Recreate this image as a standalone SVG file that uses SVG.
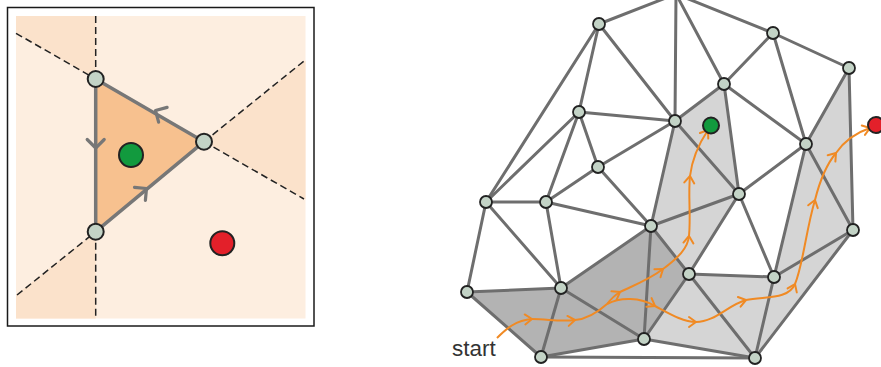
<svg xmlns="http://www.w3.org/2000/svg" width="881" height="367" viewBox="0 0 881 367">
<style>
.frame{fill:#fff;stroke:#1a1a1a;stroke-width:1.5}
.bg{fill:#fdeee0}
.wedge{fill:#fbe2cb}
.dash{stroke:#222;stroke-width:1.5;stroke-dasharray:7 4;fill:none}
.tri{fill:#f7c18f;stroke:#777;stroke-width:3.5;stroke-linejoin:round}
.chev{fill:none;stroke:#777;stroke-width:3.2;stroke-linecap:round;stroke-linejoin:round}
.vx{fill:#c3d3c6;stroke:#222;stroke-width:2}
.nd{fill:#c3d3c6;stroke:#222;stroke-width:1.8}
.edge line{stroke:#6e6e6e;stroke-width:3;stroke-linecap:round}
.dark{fill:#b3b3b3}
.light{fill:#d5d5d5}
.path{fill:none;stroke:#f08a24;stroke-width:2;marker-end:url(#oar)}
.green{fill:#129a3e;stroke:#222;stroke-width:2}
.red{fill:#e3202a;stroke:#222;stroke-width:2}
.lbl{font-family:"Liberation Sans",Arial,sans-serif;font-size:22.5px;fill:#333}
</style>
<defs>
<path id="chv" d="M-8.5,-8.5 L0,0 L-8.5,8.5"/>
<marker id="oar" markerUnits="userSpaceOnUse" viewBox="-10 -10 20 20" markerWidth="20" markerHeight="20" refX="0" refY="0" orient="auto" overflow="visible">
<path d="M-7,-5 L0,0 L-7,5" fill="none" stroke="#f08a24" stroke-width="2" stroke-linecap="round" stroke-linejoin="round"/>
</marker>
</defs>

<g id="left-panel">
<rect class="frame" x="7.5" y="7.5" width="306.5" height="318.5"/>
<rect class="bg" x="16" y="16" width="289.5" height="302.5"/>
<polygon class="wedge" points="16,16 95.7,16 95.7,79 16,33.3"/>
<polygon class="wedge" points="16,295 95.7,231.7 95.7,318.5 16,318.5"/>
<polygon class="wedge" points="204,141.7 305.5,60.5 305.5,199.5"/>
<g id="dashed">
<line class="dash" x1="95.7" y1="16" x2="95.7" y2="79"/>
<line class="dash" x1="95.7" y1="231.7" x2="95.7" y2="318.5"/>
<line class="dash" x1="16" y1="33.3" x2="95.7" y2="79"/>
<line class="dash" x1="17" y1="295" x2="95.7" y2="231.7"/>
<line class="dash" x1="204" y1="141.7" x2="304" y2="61"/>
<line class="dash" x1="204" y1="141.7" x2="304" y2="199"/>
</g>
<polygon id="triangle" class="tri" points="95.7,79 204,141.7 95.7,231.7"/>
<g id="tri-arrows">
<use href="#chv" class="chev" transform="translate(95.7,148) rotate(90)"/>
<use href="#chv" class="chev" transform="translate(146.5,188.5) rotate(-39.7)"/>
<use href="#chv" class="chev" transform="translate(155.5,110.5) rotate(-150)"/>
</g>
<g id="v1"><circle class="vx" cx="95.7" cy="79" r="8"/></g>
<g id="v2"><circle class="vx" cx="204" cy="141.7" r="8"/></g>
<g id="v3"><circle class="vx" cx="95.7" cy="231.7" r="8"/></g>
<g id="left-green"><circle class="green" cx="131" cy="155" r="12"/></g>
<g id="left-red"><circle class="red" cx="222.3" cy="243.3" r="12"/></g>
</g>

<g id="regions">
<polygon class="dark" points="467,292 561,288 651,226 689,274 644,339 541,357"/>
<polygon class="light" points="675,121 724,84 739,194"/>
<polygon class="light" points="675,121 739,194 651,226"/>
<polygon class="light" points="651,226 739,194 689,274"/>
<polygon class="light" points="689,274 644,339 755,358"/>
<polygon class="light" points="689,274 774,277 755,358"/>
<polygon class="light" points="774,277 853,230 755,358"/>
<polygon class="light" points="774,277 806,144 853,230"/>
<polygon class="light" points="806,144 849,68 853,230"/>
</g>

<g id="connectors" class="edge">
<line x1="676" y1="-6" x2="599" y2="24"/>
<line x1="676" y1="-6" x2="675" y2="121"/>
<line x1="676" y1="-6" x2="724" y2="84"/>
<line x1="676" y1="-6" x2="773" y2="33"/>
<line x1="599" y1="24" x2="579" y2="112"/>
<line x1="599" y1="24" x2="675" y2="121"/>
<line x1="599" y1="24" x2="486" y2="202"/>
<line x1="773" y1="33" x2="724" y2="84"/>
<line x1="773" y1="33" x2="849" y2="68"/>
<line x1="773" y1="33" x2="806" y2="144"/>
<line x1="849" y1="68" x2="806" y2="144"/>
<line x1="849" y1="68" x2="853" y2="230"/>
<line x1="724" y1="84" x2="675" y2="121"/>
<line x1="724" y1="84" x2="806" y2="144"/>
<line x1="724" y1="84" x2="739" y2="194"/>
<line x1="579" y1="112" x2="675" y2="121"/>
<line x1="579" y1="112" x2="486" y2="202"/>
<line x1="579" y1="112" x2="546" y2="202"/>
<line x1="579" y1="112" x2="598" y2="167"/>
<line x1="675" y1="121" x2="598" y2="167"/>
<line x1="675" y1="121" x2="651" y2="226"/>
<line x1="675" y1="121" x2="739" y2="194"/>
<line x1="806" y1="144" x2="739" y2="194"/>
<line x1="806" y1="144" x2="853" y2="230"/>
<line x1="806" y1="144" x2="774" y2="277"/>
<line x1="739" y1="194" x2="651" y2="226"/>
<line x1="739" y1="194" x2="689" y2="274"/>
<line x1="739" y1="194" x2="774" y2="277"/>
<line x1="598" y1="167" x2="546" y2="202"/>
<line x1="598" y1="167" x2="651" y2="226"/>
<line x1="486" y1="202" x2="546" y2="202"/>
<line x1="486" y1="202" x2="467" y2="292"/>
<line x1="486" y1="202" x2="561" y2="288"/>
<line x1="546" y1="202" x2="651" y2="226"/>
<line x1="546" y1="202" x2="561" y2="288"/>
<line x1="651" y1="226" x2="561" y2="288"/>
<line x1="651" y1="226" x2="644" y2="339"/>
<line x1="651" y1="226" x2="689" y2="274"/>
<line x1="689" y1="274" x2="774" y2="277"/>
<line x1="689" y1="274" x2="644" y2="339"/>
<line x1="689" y1="274" x2="755" y2="358"/>
<line x1="774" y1="277" x2="755" y2="358"/>
<line x1="774" y1="277" x2="853" y2="230"/>
<line x1="853" y1="230" x2="755" y2="358"/>
<line x1="467" y1="292" x2="561" y2="288"/>
<line x1="467" y1="292" x2="541" y2="357"/>
<line x1="561" y1="288" x2="541" y2="357"/>
<line x1="561" y1="288" x2="644" y2="339"/>
<line x1="541" y1="357" x2="644" y2="339"/>
<line x1="541" y1="357" x2="755" y2="358"/>
<line x1="644" y1="339" x2="755" y2="358"/>
</g>

<g id="walk-paths">
<path class="path" d="M497,338 C506,329 516,320 532,319"/>
<path class="path" d="M532,319 C548,319 560,322 575,320"/>
<path style="fill:none;stroke:#f08a24;stroke-width:2" d="M575,320 C588,319 598,312 607,304"/>
<path class="path" d="M607,304 C611,299 615,295 620,292"/>
<path class="path" d="M620,292 C635,285 650,279 663,269"/>
<path class="path" d="M663,269 C678,258 688,248 689,236"/>
<path class="path" d="M689,236 C691,215 688,195 690,176"/>
<path class="path" d="M690,176 C692,160 698,145 708,130"/>
<path class="path" d="M607,304 C620,297 640,297 655,306"/>
<path class="path" d="M655,306 C670,314 683,322 696,322"/>
<path class="path" d="M696,322 C715,322 728,305 746,300"/>
<path class="path" d="M746,300 C765,296 788,300 795,284"/>
<path class="path" d="M795,284 C803,265 806,230 815,200"/>
<path class="path" d="M815,200 C820,180 826,165 836,153"/>
<path class="path" d="M836,153 C845,140 858,132 870,128"/>
</g>

<g id="nodes">
<g id="n-top"><circle class="nd" cx="676" cy="-9" r="6"/></g>
<g id="n-a"><circle class="nd" cx="599" cy="24" r="6"/></g>
<g id="n-c"><circle class="nd" cx="773" cy="33" r="6"/></g>
<g id="n-d"><circle class="nd" cx="849" cy="68" r="6"/></g>
<g id="n-e"><circle class="nd" cx="724" cy="84" r="6"/></g>
<g id="n-f"><circle class="nd" cx="579" cy="112" r="6"/></g>
<g id="n-g"><circle class="nd" cx="675" cy="121" r="6"/></g>
<g id="n-i"><circle class="nd" cx="806" cy="144" r="6"/></g>
<g id="n-j"><circle class="nd" cx="598" cy="167" r="6"/></g>
<g id="n-k"><circle class="nd" cx="739" cy="194" r="6"/></g>
<g id="n-l"><circle class="nd" cx="486" cy="202" r="6"/></g>
<g id="n-m"><circle class="nd" cx="546" cy="202" r="6"/></g>
<g id="n-n"><circle class="nd" cx="651" cy="226" r="6"/></g>
<g id="n-o"><circle class="nd" cx="853" cy="230" r="6"/></g>
<g id="n-p"><circle class="nd" cx="689" cy="274" r="6"/></g>
<g id="n-q"><circle class="nd" cx="774" cy="277" r="6"/></g>
<g id="n-r"><circle class="nd" cx="467" cy="292" r="6"/></g>
<g id="n-s"><circle class="nd" cx="561" cy="288" r="6"/></g>
<g id="n-t"><circle class="nd" cx="644" cy="339" r="6"/></g>
<g id="n-u"><circle class="nd" cx="541" cy="357" r="6"/></g>
<g id="n-v"><circle class="nd" cx="755" cy="358" r="6"/></g>
<g id="goal-green"><circle class="green" cx="711" cy="125.5" r="8"/></g>
<g id="goal-red"><circle class="red" cx="876" cy="125" r="8"/></g>
<g id="start-label"><text class="lbl" x="452" y="356">start</text></g>
</g>
</svg>
